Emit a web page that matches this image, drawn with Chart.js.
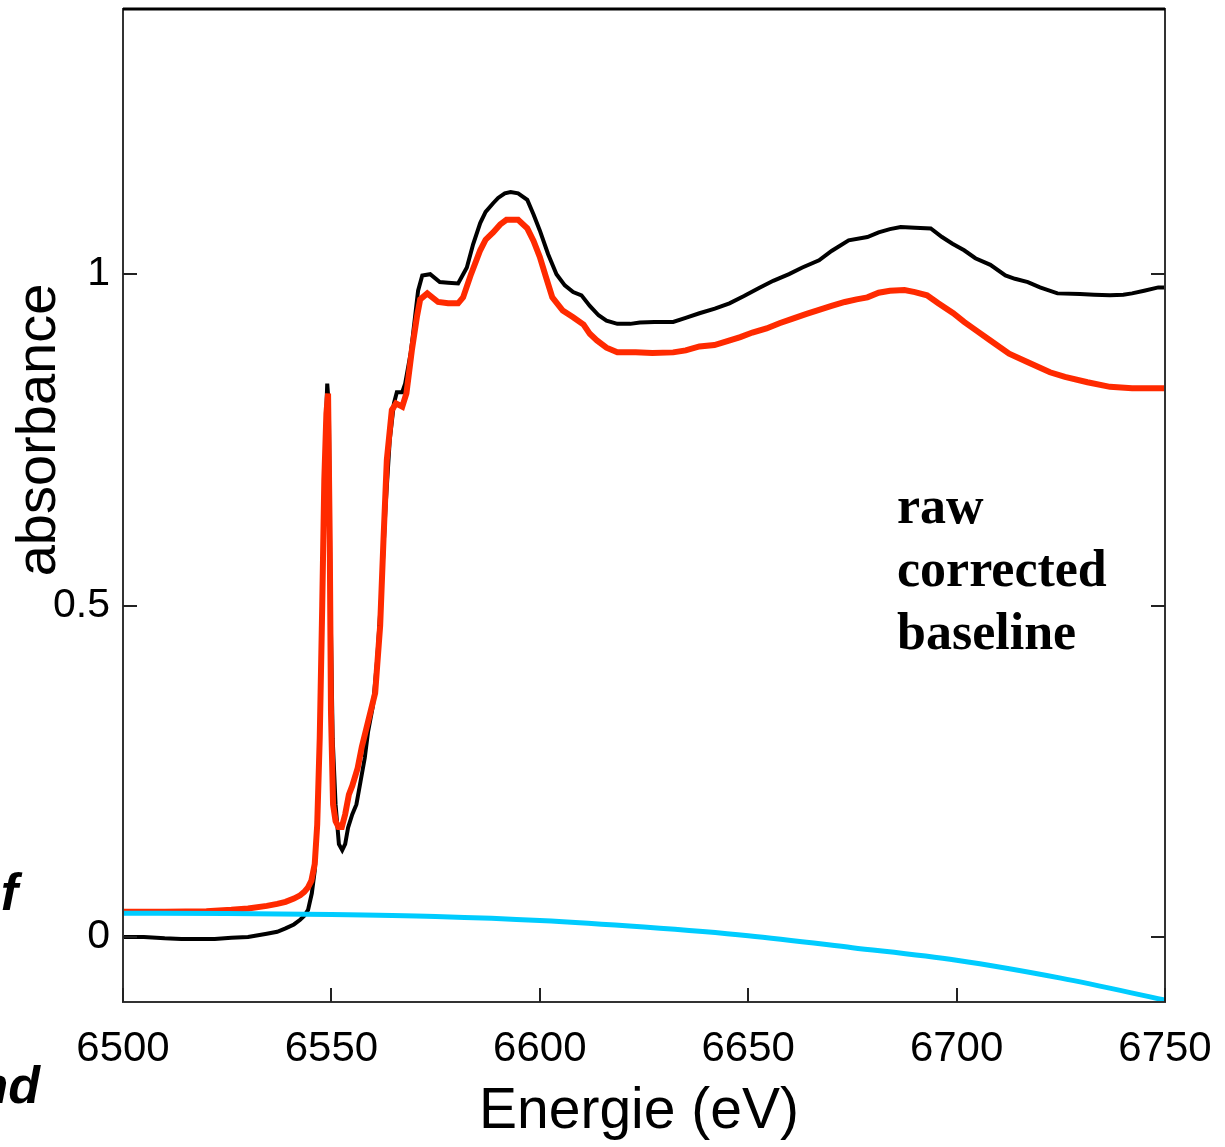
<!DOCTYPE html>
<html>
<head>
<meta charset="utf-8">
<title>absorbance</title>
<script src="https://cdn.jsdelivr.net/npm/chart.js@4/dist/chart.umd.min.js"></script>
<style>
  html, body { margin: 0; padding: 0; background: #fff; }
  #wrap { width: 1225px; height: 1147px; position: relative; }
</style>
</head>
<body>
<div id="wrap"><canvas id="xanes"></canvas></div>
<script>
// raw spectrum
const rawEnergy = [6500, 6505, 6510, 6514, 6518, 6522, 6526, 6530, 6534.5, 6537, 6539, 6541, 6542.5, 6543.5, 6544.4, 6545.3, 6546, 6546.6, 6547.3, 6548, 6548.6, 6549, 6549.4, 6549.8, 6550.3, 6551, 6551.8, 6552.6, 6553.3, 6554, 6555, 6556, 6557, 6558, 6558.8, 6560, 6561, 6562, 6563, 6564, 6565, 6565.7, 6567, 6567.7, 6569, 6569.6, 6570.8, 6571.8, 6573.7, 6576, 6578, 6580.4, 6582.5, 6584, 6585.7, 6587, 6588.8, 6590, 6591.6, 6593, 6594.8, 6597, 6598.5, 6600, 6602, 6604, 6606, 6608, 6610, 6612, 6614.1, 6616, 6618.6, 6621.7, 6624, 6627.5, 6632, 6635, 6638.3, 6642, 6645.5, 6649, 6652.6, 6656, 6659.8, 6663, 6667, 6670, 6674.1, 6678.6, 6681.3, 6684, 6686.6, 6690, 6693.8, 6696.5, 6699, 6701.8, 6704.5, 6708.1, 6711.7, 6714, 6717.1, 6720, 6724.2, 6729.6, 6733, 6736.8, 6740, 6742.1, 6745, 6748.4, 6750];
const rawAbs = [0.0, 0.0, -0.002, -0.003, -0.003, -0.003, -0.001, 0.0, 0.005, 0.008, 0.013, 0.019, 0.026, 0.032, 0.041, 0.066, 0.10, 0.17, 0.33, 0.58, 0.76, 0.835, 0.80, 0.50, 0.30, 0.20, 0.14, 0.131, 0.14, 0.165, 0.185, 0.20, 0.235, 0.27, 0.31, 0.35, 0.42, 0.52, 0.65, 0.75, 0.805, 0.822, 0.822, 0.835, 0.88, 0.91, 0.975, 0.998, 1.0, 0.988, 0.987, 0.986, 1.01, 1.045, 1.077, 1.094, 1.107, 1.115, 1.122, 1.124, 1.122, 1.112, 1.09, 1.066, 1.03, 1.0, 0.983, 0.973, 0.968, 0.952, 0.938, 0.93, 0.925, 0.925, 0.927, 0.928, 0.928, 0.934, 0.941, 0.948, 0.956, 0.967, 0.979, 0.99, 1.0, 1.01, 1.021, 1.035, 1.051, 1.056, 1.063, 1.068, 1.071, 1.070, 1.069, 1.056, 1.046, 1.036, 1.024, 1.014, 0.998, 0.993, 0.988, 0.98, 0.971, 0.97, 0.969, 0.968, 0.969, 0.971, 0.975, 0.98, 0.98];

// spectrum after baseline correction
const corrEnergy = [6500, 6510, 6520, 6526, 6530, 6534.5, 6537, 6539, 6541, 6542.5, 6543.5, 6544.4, 6545.2, 6546, 6546.6, 6547.2, 6547.8, 6548.3, 6548.8, 6549.2, 6549.6, 6549.9, 6550.4, 6551, 6551.7, 6552.5, 6553.3, 6554.2, 6555, 6556.3, 6557.3, 6559, 6560.5, 6561.7, 6562.5, 6563.3, 6564.5, 6565.5, 6567, 6568, 6569.3, 6570.5, 6571.3, 6573, 6575.6, 6578, 6580.4, 6581.6, 6583.5, 6585.7, 6587, 6588.8, 6590.5, 6592, 6594.8, 6597, 6598.5, 6600, 6601.5, 6603, 6605.5, 6608, 6610.5, 6612, 6613.7, 6616, 6618.6, 6623, 6627, 6632, 6635, 6638.3, 6641.9, 6645, 6648.1, 6651, 6654.4, 6657.5, 6660.7, 6664, 6667, 6670, 6673.2, 6676, 6678.6, 6681.3, 6684, 6687.5, 6690, 6692.9, 6695.6, 6699.2, 6701.8, 6704.5, 6708.1, 6712.6, 6717.1, 6722.4, 6726, 6731.4, 6736.8, 6742.1, 6750];
const corrAbs = [0.038, 0.038, 0.039, 0.041, 0.043, 0.047, 0.050, 0.053, 0.058, 0.063, 0.068, 0.075, 0.085, 0.11, 0.17, 0.30, 0.50, 0.69, 0.79, 0.82, 0.60, 0.34, 0.20, 0.175, 0.166, 0.166, 0.185, 0.215, 0.228, 0.255, 0.287, 0.33, 0.368, 0.47, 0.60, 0.72, 0.795, 0.805, 0.80, 0.82, 0.885, 0.935, 0.962, 0.971, 0.958, 0.956, 0.956, 0.965, 1.0, 1.036, 1.052, 1.063, 1.075, 1.082, 1.082, 1.069, 1.05, 1.026, 0.995, 0.965, 0.945, 0.935, 0.924, 0.91, 0.9, 0.889, 0.882, 0.882, 0.881, 0.882, 0.885, 0.891, 0.893, 0.899, 0.905, 0.912, 0.918, 0.926, 0.933, 0.94, 0.946, 0.952, 0.958, 0.962, 0.965, 0.972, 0.975, 0.976, 0.973, 0.968, 0.956, 0.941, 0.928, 0.916, 0.9, 0.88, 0.867, 0.852, 0.845, 0.837, 0.83, 0.828, 0.828];

// fitted baseline
const baseEnergy = [6500, 6525, 6550, 6575, 6600, 6625, 6650, 6675, 6700, 6725, 6750];
const baseAbs = [0.036, 0.0355, 0.034, 0.031, 0.025, 0.015, 0.002, -0.016, -0.035, -0.062, -0.095];

const legendLabels = ["raw", "corrected", "baseline"];
const yTicks = [0, 0.5, 1];

const toPoints = (xs, ys) => xs.map((x, i) => ({ x: x, y: ys[i] }));

// frame, inward ticks, axis titles and labels drawn on top of the chart
const framePlugin = {
  id: "frame",
  afterDraw(chart) {
    const { ctx, chartArea: a, scales } = chart;
    const tick = 14;
    ctx.save();
    ctx.strokeStyle = "#333";
    ctx.lineWidth = 2;
    ctx.strokeRect(a.left, a.top, a.right - a.left, a.bottom - a.top);
    ctx.strokeStyle = "#000";
    ctx.lineWidth = 3;
    ctx.beginPath();
    ctx.moveTo(a.left, a.top);
    ctx.lineTo(a.right, a.top);
    ctx.stroke();

    ctx.strokeStyle = "#222";
    ctx.lineWidth = 2;
    ctx.beginPath();
    scales.x.ticks.forEach((t) => {
      const px = Math.round(scales.x.getPixelForValue(t.value));
      ctx.moveTo(px, a.bottom);
      ctx.lineTo(px, a.bottom - tick);
    });
    scales.y.ticks.forEach((t) => {
      const py = Math.round(scales.y.getPixelForValue(t.value));
      ctx.moveTo(a.left, py);
      ctx.lineTo(a.left + tick, py);
      ctx.moveTo(a.right, py);
      ctx.lineTo(a.right - tick, py);
    });
    ctx.stroke();

    ctx.fillStyle = "#000";
    ctx.font = "57px 'Liberation Sans', Arial, sans-serif";
    ctx.textAlign = "center";
    ctx.textBaseline = "alphabetic";
    ctx.fillText("Energie (eV)", 639, 1128);

    ctx.font = "56px 'Liberation Sans', Arial, sans-serif";
    ctx.textBaseline = "middle";
    ctx.translate(40, 430);
    ctx.rotate(-Math.PI / 2);
    ctx.fillText("absorbance", 0, 0);
    ctx.restore();

    ctx.save();
    ctx.fillStyle = "#000";
    ctx.font = "bold 52px 'Liberation Serif', 'Times New Roman', serif";
    ctx.textAlign = "left";
    ctx.textBaseline = "alphabetic";
    legendLabels.forEach((s, i) => ctx.fillText(s, 897, 523 + i * 63));

    ctx.font = "italic bold 52px 'Liberation Sans', Arial, sans-serif";
    ctx.textAlign = "right";
    ctx.fillText("f", 18, 910);
    ctx.fillText("nd", 40, 1103);
    ctx.restore();
  },
};

new Chart(document.getElementById("xanes"), {
  type: "line",
  data: {
    datasets: [
      {
        label: legendLabels[0],
        data: toPoints(rawEnergy, rawAbs),
        borderColor: "#000000",
        borderWidth: 4,
        order: 3,
      },
      {
        label: legendLabels[1],
        data: toPoints(corrEnergy, corrAbs),
        borderColor: "#ff2a00",
        borderWidth: 6,
        order: 2,
      },
      {
        label: legendLabels[2],
        data: toPoints(baseEnergy, baseAbs),
        borderColor: "#00ccff",
        borderWidth: 5,
        cubicInterpolationMode: "monotone",
        order: 1,
      },
    ],
  },
  options: {
    responsive: true,
    maintainAspectRatio: false,
    animation: false,
    layout: { autoPadding: false, padding: { left: 0, top: 9, right: 60, bottom: 0 } },
    elements: { point: { radius: 0 }, line: { tension: 0 } },
    plugins: { legend: { display: false }, tooltip: { enabled: false } },
    scales: {
      x: {
        type: "linear",
        min: 6500,
        max: 6750,
        grid: { display: false, drawTicks: false },
        border: { display: false },
        ticks: {
          stepSize: 50,
          padding: 22,
          color: "#000",
          maxRotation: 0,
          font: { family: "'Liberation Sans', Arial, sans-serif", size: 42 },
          callback: (v) => String(v),
        },
        afterFit: (s) => {
          s.height = 145;
          s.paddingLeft = 0;
          s.paddingRight = 0;
        },
      },
      y: {
        type: "linear",
        min: -0.098,
        max: 1.4,
        grid: { display: false, drawTicks: false },
        border: { display: false },
        ticks: {
          padding: 13,
          color: "#000",
          includeBounds: false,
          font: { family: "'Liberation Sans', Arial, sans-serif", size: 41 },
          callback: (v) => String(v),
        },
        afterBuildTicks: (s) => { s.ticks = yTicks.map((v) => ({ value: v })); },
        afterFit: (s) => {
          s.width = 123;
          s.paddingTop = 0;
          s.paddingBottom = 0;
        },
      },
    },
  },
  plugins: [framePlugin],
});
</script>
</body>
</html>
